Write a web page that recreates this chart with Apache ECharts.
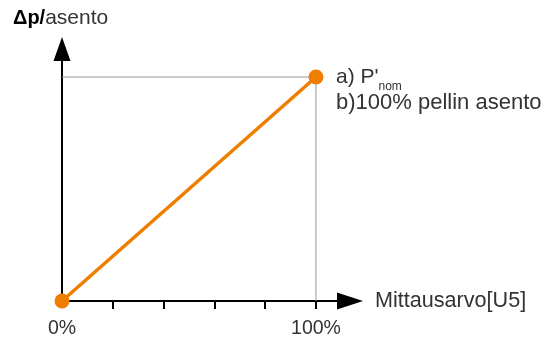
<!DOCTYPE html>
<html><head><meta charset="utf-8">
<script src="https://cdn.jsdelivr.net/npm/echarts@6/dist/echarts.min.js"></script>
<style>html,body{margin:0;padding:0;background:#fff}#c{width:549px;height:339px}</style>
</head><body><div id="c"></div>
<script>
const xValues = [0, 100];
const yValues = [0, 100];
const guideX = [0, 100, 100];
const guideY = [100, 100, 0];
const tickValues = [20, 40, 60, 80, 100];
const tickLabels = {0: '0%', 100: '100%'};
const xName = 'Mittausarvo[U5]';
const yNameBold = 'Δp/';
const yNameRest = 'asento';
const noteA = 'a) P\'';
const noteASub = 'nom';
const noteB = 'b)100% pellin asento';

const FONT = 'Liberation Sans';
const chart = echarts.init(document.getElementById('c'), null, {renderer: 'canvas'});
chart.setOption({
  animation: false,
  grid: {left: 62, top: 49, width: 288, height: 252},
  xAxis: {
    type: 'value', min: 0, max: 113.4, interval: 20,
    axisLine: {show: true, lineStyle: {color: '#000', width: 2}, symbol: ['none', 'triangle'], symbolSize: [17, 26]},
    axisTick: {show: true, customValues: tickValues, length: 8, inside: false, lineStyle: {color: '#000', width: 2}},
    axisLabel: {show: true, customValues: [0, 100], formatter: v => tickLabels[v] || '', color: '#333', fontSize: 19.5, fontFamily: FONT, margin: 18},
    splitLine: {show: false},
    name: xName, nameLocation: 'end', nameGap: 25,
    nameTextStyle: {color: '#333', fontSize: 21.6, fontFamily: FONT, verticalAlign: 'middle', align: 'left'}
  },
  yAxis: {
    type: 'value', min: 0, max: 112.5,
    axisLine: {show: true, lineStyle: {color: '#000', width: 2}, symbol: ['none', 'triangle'], symbolSize: [17, 24]},
    axisTick: {show: false}, axisLabel: {show: false}, splitLine: {show: false}
  },
  series: [
    {type: 'line', data: guideX.map((x, i) => [x, guideY[i]]), symbol: 'none', silent: true,
     lineStyle: {color: '#999', width: 1}, z: 1},
    {type: 'line', data: xValues.map((x, i) => [x, yValues[i]]), symbol: 'circle', symbolSize: 15,
     itemStyle: {color: '#EF7D00'}, lineStyle: {color: '#EF7D00', width: 3.5}, z: 5}
  ],
  graphic: [
    {type: 'text', x: 13, y: 18, style: {
      text: '{b|' + yNameBold + '}{r|' + yNameRest + '}', verticalAlign: 'middle',
      rich: {b: {fontSize: 20, fontWeight: 'bold', fontFamily: FONT, fill: '#000'}, r: {fontSize: 21, fontFamily: FONT, fill: '#333'}}
    }},
    {type: 'text', x: 336, y: 77, style: {
      text: '{m|' + noteA + '}{s|' + noteASub + '}', verticalAlign: 'middle',
      rich: {m: {fontSize: 21, fontFamily: FONT, fill: '#333'}, s: {fontSize: 12, fontFamily: FONT, fill: '#333', padding: [20, 0, 0, 0]}}
    }},
    {type: 'text', x: 336, y: 103, style: {text: noteB, verticalAlign: 'middle', fontSize: 22, fontFamily: FONT, fill: '#333'}}
  ]
});
</script></body></html>
